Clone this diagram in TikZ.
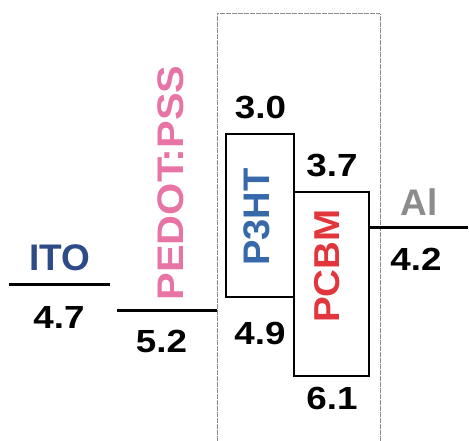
\documentclass[tikz,border=0pt]{standalone}
\usepackage{fontspec}
\setsansfont{Liberation Sans}
\usepackage{tikz}
\usetikzlibrary{positioning, calc}
\definecolor{itoBlue}{RGB}{45,75,135}
\definecolor{ptBlue}{RGB}{55,105,170}
\definecolor{pedotPink}{RGB}{232,115,165}
\definecolor{pcbmRed}{RGB}{225,55,60}
\definecolor{alGrey}{RGB}{140,140,140}
\begin{document}
\begin{tikzpicture}[
    x=1pt, y=-1pt,
    font=\sffamily\bfseries\fontsize{37}{40}\selectfont,
    level/.style={line width=3pt, draw=black},
    band/.style={draw=black, line width=2.5pt, rectangle, inner sep=0pt},
    val/.style={inner sep=0pt, text=black, xscale=1.15,
                font=\sffamily\bfseries\fontsize{32}{35}\selectfont},
    mat/.style={inner sep=0pt, rotate=90},
    layer/.style={draw=black!45, line width=1pt, dash pattern=on 0.6pt off 0.6pt}
]
\useasboundingbox (0,0) rectangle (469,441);

% active layer frame (open at the bottom)
\coordinate (fbl) at (217,441);
\coordinate (ftl) at (217,14);
\coordinate (ftr) at (380,14);
\coordinate (fbr) at (380,441);
\draw[layer] (fbl) -- (ftl) -- (ftr) -- (fbr);

% electrode / interlayer levels
\coordinate (ito-l) at (9,284);
\coordinate (ito-r) at (110,284);
\coordinate (pedot-l) at (117,310);
\coordinate (pedot-r) at (217,310);
\draw[level] (ito-l) -- (ito-r);
\draw[level] (pedot-l) -- (pedot-r);

% donor and acceptor bands
\node[band, minimum width=68pt, minimum height=163pt] (p3ht) at (260,215.5) {};
\node[band, minimum width=75pt, minimum height=184pt] (pcbm) at (331.5,284) {};

\coordinate (al-r) at (468,228);
\draw[level] (pcbm.east |- al-r) -- (al-r);

% material names
\node[text=itoBlue, inner sep=0pt] (ito) at (60,258) {ITO};
\node[mat, text=pedotPink, xscale=1.12] (pedot) at (171,183) {PEDOT:PSS};
\node[mat, text=ptBlue, xscale=1.03] (p3htname) at (257,217) {P3HT};
\node[mat, text=pcbmRed, xscale=1.07,
      font=\sffamily\bfseries\fontsize{36}{39}\selectfont] (pcbmname) at (327,266) {PCBM};
\node[text=alGrey, inner sep=0pt] (al) at (419,202) {Al};

% energies (eV)
\node[val] (e47) at (59,317.5) {4.7};
\node[val] (e52) at (161.5,341.5) {5.2};
\node[val] (e30) at (260.5,107.5) {3.0};
\node[val] (e49) at (260,333.5) {4.9};
\node[val] (e37) at (332,166) {3.7};
\node[val] (e61) at (332,398.5) {6.1};
\node[val] (e42) at (416,259) {4.2};
\end{tikzpicture}
\end{document}
